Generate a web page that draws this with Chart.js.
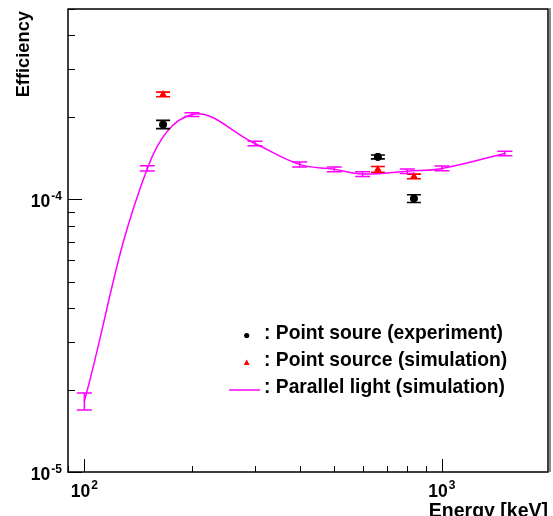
<!DOCTYPE html>
<html><head><meta charset="utf-8">
<script src="https://cdn.jsdelivr.net/npm/chart.js@4/dist/chart.umd.min.js"></script>
<style>html,body{margin:0;padding:0;background:#fff;} canvas{display:block;}</style>
</head><body>
<canvas id="c" width="553" height="516"></canvas>
<script>
// ---- data ----
const parallelEnergy = [100, 150, 200, 300, 400, 500, 600, 800, 1000, 1500];
const parallelEff    = [1.82e-5, 1.30e-4, 2.05e-4, 1.605e-4, 1.345e-4, 1.29e-4, 1.24e-4, 1.27e-4, 1.30e-4, 1.475e-4];
const parallelErr    = [1.3e-6, 2.9e-6, 3.2e-6, 3.2e-6, 2.8e-6, 2.6e-6, 2.5e-6, 2.5e-6, 2.6e-6, 2.9e-6];
const expEnergy = [166, 662, 835];
const expEff    = [1.885e-4, 1.433e-4, 1.008e-4];
const expErr    = [6.6e-6, 2.4e-6, 3.3e-6];
const simEnergy = [166, 662, 835];
const simEff    = [2.43e-4, 1.29e-4, 1.215e-4];
const simErr    = [4.8e-6, 3.1e-6, 2.4e-6];
const xTickLabels = [['10', '2', 100], ['10', '3', 1000]];
const yTickLabels = [['10', '-4', 1e-4], ['10', '-5', 1e-5]];
const legendLabels = [': Point soure (experiment)', ': Point source (simulation)', ': Parallel light (simulation)'];
const xTitle = 'Energy [keV]';
const yTitle = 'Efficiency';

const FONT = '"Liberation Sans", Arial, Helvetica, sans-serif';
const MAG = '#ff00ff';

function pts(xs, ys, es) { return xs.map((x, i) => ({ x: x, y: ys[i], e: es[i] })); }

const errorBars = {
  id: 'errorBars',
  afterDatasetsDraw(chart) {
    const ctx = chart.ctx, ys = chart.scales.y;
    chart.data.datasets.forEach((ds, di) => {
      const meta = chart.getDatasetMeta(di);
      ctx.save();
      ctx.strokeStyle = ds.errColor;
      ctx.lineWidth = ds.errWidth;
      meta.data.forEach((el, i) => {
        const d = ds.data[i];
        const px = el.x;
        const top = ys.getPixelForValue(d.y + d.e);
        const bot = ys.getPixelForValue(d.y - d.e);
        const hw = ds.capHalf;
        ctx.beginPath();
        ctx.moveTo(px, top); ctx.lineTo(px, bot);
        ctx.moveTo(px - hw, top); ctx.lineTo(px + hw, top);
        ctx.moveTo(px - hw, bot); ctx.lineTo(px + hw, bot);
        ctx.stroke();
      });
      ctx.restore();
    });
    [0, 1].forEach(di => {
      const meta = chart.getDatasetMeta(di);
      meta.data.forEach(el => el.draw(ctx, chart.chartArea));
    });
  }
};

const frameAndText = {
  id: 'frameAndText',
  afterDraw(chart) {
    const ctx = chart.ctx, a = chart.chartArea;
    const xs = chart.scales.x, ys = chart.scales.y;
    ctx.save();
    ctx.strokeStyle = '#000';
    ctx.lineWidth = 1.5;
    ctx.strokeRect(a.left, a.top, a.right - a.left, a.bottom - a.top);
    ctx.strokeStyle = '#8a8a8a';
    ctx.lineWidth = 2;
    ctx.beginPath(); ctx.moveTo(a.right + 2, a.top - 1); ctx.lineTo(a.right + 2, a.bottom); ctx.stroke();
    ctx.strokeStyle = '#000';
    ctx.lineWidth = 1;
    for (let dec = 1; dec <= 4; dec++) {
      for (let m = 1; m <= 9; m++) {
        const v = m * Math.pow(10, dec);
        if (v < xs.min || v > xs.max) continue;
        const px = Math.round(xs.getPixelForValue(v)) + 0.5;
        const len = m === 1 ? 13 : 6;
        ctx.beginPath(); ctx.moveTo(px, a.bottom); ctx.lineTo(px, a.bottom - len); ctx.stroke();
      }
    }
    for (let dec = -6; dec <= -3; dec++) {
      for (let m = 1; m <= 9; m++) {
        const v = m * Math.pow(10, dec);
        if (v < ys.min || v > ys.max) continue;
        const py = Math.round(ys.getPixelForValue(v)) + 0.5;
        const len = m === 1 ? 14 : 7;
        ctx.beginPath(); ctx.moveTo(a.left, py); ctx.lineTo(a.left + len, py); ctx.stroke();
      }
    }
    ctx.fillStyle = '#000';
    ctx.textBaseline = 'alphabetic';
    const bFont = 'bold 17.5px ' + FONT, sFont = 'bold 12px ' + FONT;
    xTickLabels.forEach(([b, e, v]) => {
      ctx.font = bFont; const wb = ctx.measureText(b).width;
      ctx.font = sFont; const we = ctx.measureText(e).width;
      const cx = xs.getPixelForValue(v);
      const x0 = cx - (wb + we + 1) / 2;
      ctx.font = bFont; ctx.textAlign = 'left'; ctx.fillText(b, x0, 497);
      ctx.font = sFont; ctx.fillText(e, x0 + wb + 1, 489);
    });
    yTickLabels.forEach(([b, e, v]) => {
      ctx.font = bFont; const wb = ctx.measureText(b).width;
      ctx.font = sFont; const we = ctx.measureText(e).width;
      const py = ys.getPixelForValue(v);
      const right = 62;
      const x0 = right - we - 1 - wb;
      ctx.font = bFont; ctx.textAlign = 'left'; ctx.fillText(b, x0, py + 8);
      ctx.font = sFont; ctx.fillText(e, x0 + wb + 1, py + 1);
    });
    ctx.font = 'bold 19.5px ' + FONT;
    ctx.textAlign = 'right';
    ctx.fillText(xTitle, a.right, 517);
    ctx.save();
    ctx.translate(29, a.top + 2);
    ctx.rotate(-Math.PI / 2);
    ctx.font = 'bold 18.3px ' + FONT;
    ctx.textAlign = 'right';
    ctx.fillText(yTitle, 0, 0);
    ctx.restore();
    ctx.font = 'bold 19.3px ' + FONT;
    ctx.textAlign = 'left';
    const rows = [339, 366, 393];
    legendLabels.forEach((t, i) => ctx.fillText(t, 264, rows[i]));
    ctx.beginPath(); ctx.arc(246.7, 335.5, 2.6, 0, Math.PI * 2); ctx.fillStyle = '#000'; ctx.fill();
    ctx.fillStyle = '#ff0000';
    ctx.beginPath(); ctx.moveTo(246.7, 359.5); ctx.lineTo(249.7, 365); ctx.lineTo(243.7, 365); ctx.closePath(); ctx.fill();
    ctx.strokeStyle = MAG; ctx.lineWidth = 1.5;
    ctx.beginPath(); ctx.moveTo(229, 390); ctx.lineTo(260, 390); ctx.stroke();
    ctx.restore();
  }
};

new Chart(document.getElementById('c'), {
  type: 'scatter',
  data: {
    datasets: [
      { label: 'exp', data: pts(expEnergy, expEff, expErr), showLine: false,
        pointStyle: 'circle', pointRadius: 3.8, backgroundColor: '#000', borderColor: '#000', borderWidth: 0,
        errColor: '#000', errWidth: 1.6, capHalf: 7 },
      { label: 'sim', data: pts(simEnergy, simEff, simErr), showLine: false,
        pointStyle: 'triangle', pointRadius: 4.2, backgroundColor: '#ff0000', borderColor: '#ff0000', borderWidth: 0,
        errColor: '#ff0000', errWidth: 1.6, capHalf: 7 },
      { label: 'par', data: pts(parallelEnergy, parallelEff, parallelErr), showLine: true,
        pointRadius: 0, borderColor: MAG, borderWidth: 1.5, tension: 0.4, fill: false,
        errColor: MAG, errWidth: 1.5, capHalf: 7.5 }
    ]
  },
  options: {
    responsive: false,
    animation: false,
    devicePixelRatio: 1,
    layout: { padding: { left: 68, right: 5, top: 9, bottom: 44 } },
    plugins: { legend: { display: false }, tooltip: { enabled: false } },
    scales: {
      x: { type: 'logarithmic', min: 90, max: 1980, display: false },
      y: { type: 'logarithmic', min: 1e-5, max: 5e-4, display: false }
    }
  },
  plugins: [errorBars, frameAndText]
});
</script>
</body></html>
